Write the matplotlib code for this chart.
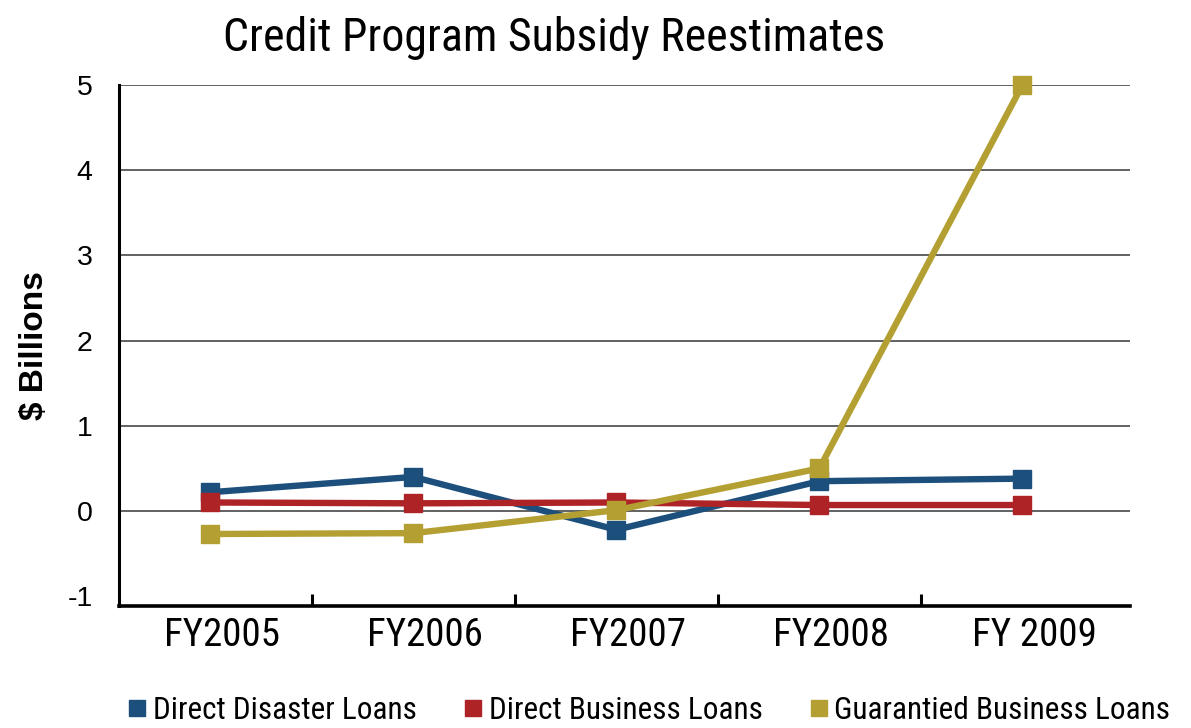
import matplotlib
matplotlib.use("Agg")
import matplotlib.pyplot as plt
from matplotlib.lines import Line2D
from matplotlib import font_manager
import matplotlib.transforms as mtrans

categories = ["FY2005", "FY2006", "FY2007", "FY2008", "FY 2009"]
direct_disaster = [0.22, 0.40, -0.22, 0.35, 0.38]
direct_business = [0.10, 0.09, 0.10, 0.07, 0.07]
guaranteed_business = [-0.27, -0.26, 0.01, 0.50, 5.0]
series_names = ["Direct Disaster Loans", "Direct Business Loans", "Guarantied Business Loans"]
yticks = [-1, 0, 1, 2, 3, 4, 5]

colors = ["#1c4f7c", "#ae2326", "#b4a032"]

names = {f.name for f in font_manager.fontManager.ttflist}
narrow = "Liberation Sans"
for cand in ["Roboto Condensed", "Archivo Narrow", "PT Sans Narrow", "Sofia Sans Condensed",
             "Barlow Semi Condensed", "Liberation Sans Narrow"]:
    if cand in names:
        narrow = cand
        break
reg = "Liberation Sans"

fig = plt.figure(figsize=(11.91, 7.28), dpi=100)
ax = fig.add_axes([0.0999, 0.1676, 0.8489, 0.7156])

x = list(range(len(categories)))
for vals, c, name in zip([direct_disaster, direct_business, guaranteed_business], colors, series_names):
    ax.plot(x, vals, color=c, lw=4.6, marker="s", markersize=12.5, label=name,
            solid_joinstyle="miter", clip_on=False)

ax.set_xlim(-0.45, 4.53)
ax.set_ylim(-1.115, 5)
ax.set_yticks(yticks)
ax.set_yticklabels([str(v) for v in yticks], fontfamily=reg, fontsize=20.5)
ax.tick_params(axis="y", length=0, pad=19)
ax.yaxis.grid(True, color="#555555", lw=1.3)
ax.get_ygridlines()[0].set_visible(False)
ax.set_axisbelow(True)

ax.set_xticks(x)
ax.set_xticklabels(categories, fontfamily=narrow, fontsize=28)
ax.tick_params(axis="x", length=0, pad=8)
offset = mtrans.ScaledTranslation(12 / 100, 0, fig.dpi_scale_trans)
for lab in ax.get_xticklabels():
    lab.set_transform(lab.get_transform() + offset)
ax.set_xticks([0.5, 1.5, 2.5, 3.5], minor=True)
ax.tick_params(axis="x", which="minor", direction="in", length=9, width=2.2, color="black")

for s in ["top", "right"]:
    ax.spines[s].set_visible(False)
ax.spines["left"].set_linewidth(2.2)
ax.spines["bottom"].set_linewidth(2.6)

fig.text(0.465, 0.948, "Credit Program Subsidy Reestimates", ha="center", va="center",
         fontfamily=narrow, fontsize=33)
fig.text(0.029, 0.526, "$ Billions", rotation=90, ha="center", va="center",
         fontfamily=reg, fontweight="bold", fontsize=24)

handles = [Line2D([], [], ls="none", marker="s", markersize=12, color=c) for c in colors]
fig.legend(handles, series_names, loc="center", bbox_to_anchor=(0.545, 0.024), ncol=3,
           frameon=False, prop={"family": narrow, "size": 22.5}, handlelength=0.6,
           handletextpad=0.2, columnspacing=1.5, borderpad=0.1)

fig.savefig("out.png", dpi=100)
